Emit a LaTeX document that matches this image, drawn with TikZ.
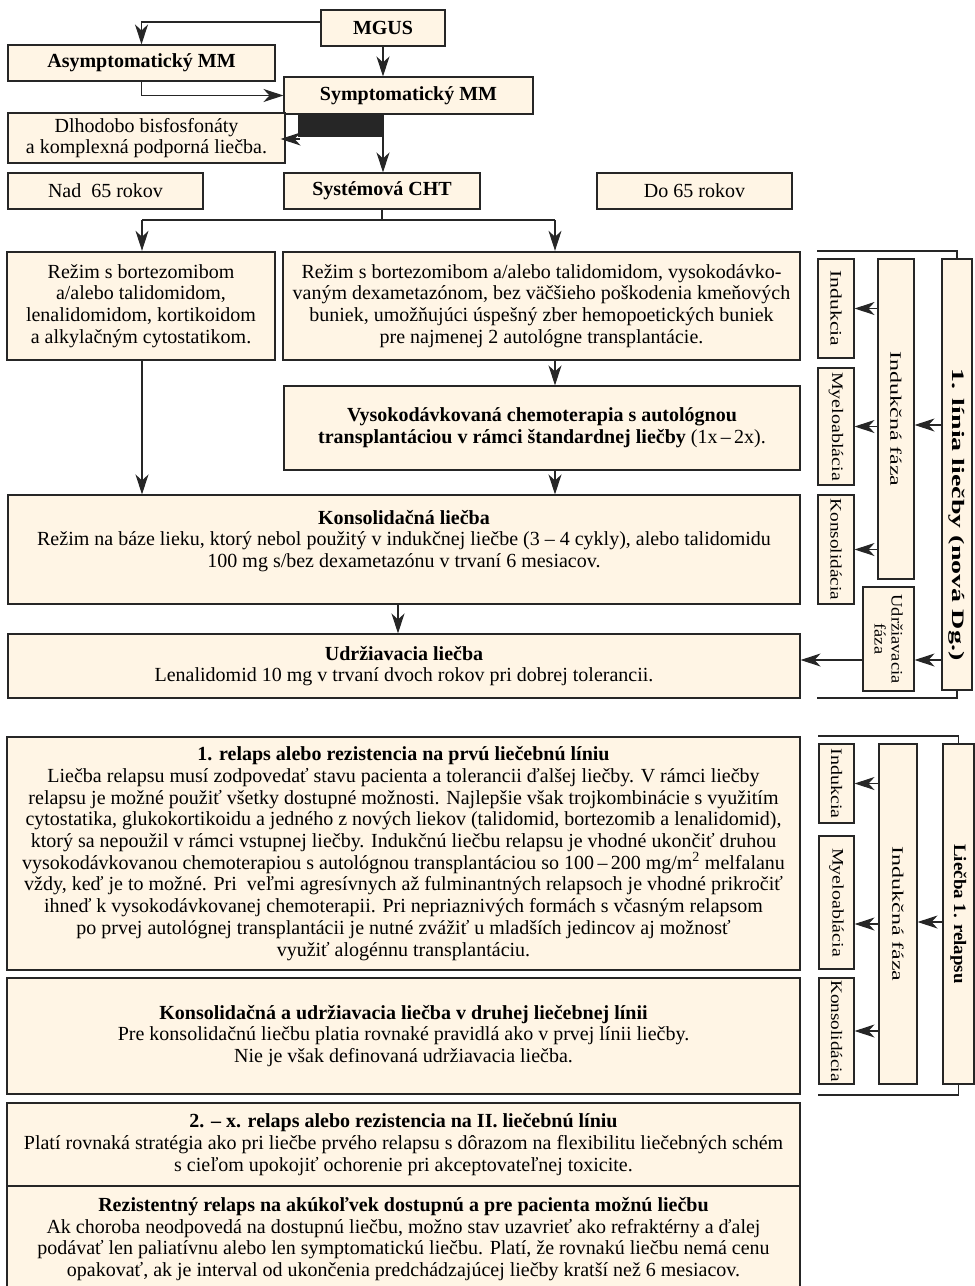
\documentclass[tikz,border=0pt]{standalone}
\usepackage{fontspec}
\setmainfont{Liberation Serif}
\usetikzlibrary{arrows.meta}

\definecolor{cream}{RGB}{255,245,229}
\definecolor{edge}{RGB}{38,38,38}
\newcommand{\mainfs}{\fontsize{20}{21.7}\selectfont}
\newcommand{\sidefs}{\fontsize{16}{17}\selectfont}
\newcommand{\vtext}[2][1.25]{\scalebox{#1}[1]{#2}}

\begin{document}
\begin{tikzpicture}[x=1pt, y=-1pt,
        box/.style={rectangle, draw=edge, line width=1.1pt, fill=cream, inner sep=0pt,
                    align=center, font=\mainfs},
        heavybox/.style={box, line width=2.4pt},
        side/.style={box, rotate=-90, font=\sidefs},
        arrow/.style={draw=edge, line width=1.1pt, -{Stealth[length=20pt, width=13pt, inset=6pt]}}
      ]
      \useasboundingbox (0,0) rectangle (975,1286);

      % --- diagnosis ---
      \node (mgus) [box, font=\mainfs\bfseries, minimum width=124pt, minimum height=36pt] at (383,28) {MGUS};
      \node (asym) [box, font=\mainfs\bfseries, minimum width=267pt, minimum height=36pt] at (141.5,63) {Asymptomatický MM};
      \node (sym) [box, font=\mainfs\bfseries, minimum width=249pt, minimum height=37pt] at (408.5,95.5) {Symptomatický MM};
      \node (bisf) [box, minimum width=277pt, minimum height=50pt] at (146.5,138) {Dlhodobo bisfosfonáty\\a komplexná podporná liečba.};
      \node (nad) [box, minimum width=195pt, minimum height=36pt] at (105.5,191) {Nad\ \ 65 rokov};
      \node (cht) [box, font=\mainfs\bfseries, minimum width=196pt, minimum height=36pt] at (382,191) {Systémová CHT};
      \node (do) [box, minimum width=195pt, minimum height=36pt] at (694.5,191) {Do 65 rokov};

      % --- first line of treatment ---
      \node (rezL) [heavybox, minimum width=268pt, minimum height=108pt] at (141,306)
            {Režim s bortezomibom\\a/alebo talidomidom,\\lenalidomidom, kortikoidom\\a alkylačným cytostatikom.};
      \node (rezR) [heavybox, minimum width=517pt, minimum height=108pt] at (541.5,306)
            {Režim s bortezomibom a/alebo talidomidom, vysokodávko-\\vaným dexametazónom, bez väčšieho poškodenia kmeňových\\buniek, umožňujúci úspešný zber hemopoetických buniek\\pre najmenej 2 autológne transplantácie.};
      \node (vdt) [box, minimum width=516pt, minimum height=84pt] at (542,428)
            {\textbf{Vysokodávkovaná chemoterapia s autológnou}\\\textbf{transplantáciou v rámci štandardnej liečby} (1x\,--\,2x).};
      \node (kons) [box, minimum width=792pt, minimum height=109pt] at (404,549.5)
            {\textbf{Konsolidačná liečba}\\Režim na báze lieku, ktorý nebol použitý v indukčnej liečbe (3 -- 4 cykly), alebo talidomidu\\100 mg s/bez dexametazónu v trvaní 6 mesiacov.\\\mbox{}};
      \node (udr) [box, minimum width=792pt, minimum height=64pt] at (404,666)
            {\textbf{Udržiavacia liečba}\\Lenalidomid 10 mg v trvaní dvoch rokov pri dobrej tolerancii.};

      % --- phases, first line ---
      \node (ind1) [side, minimum width=99pt, minimum height=36pt] at (836,308.5) {\vtext[1.35]{Indukcia}};
      \node (mye1) [side, minimum width=117pt, minimum height=36pt] at (836,426.5) {\vtext{Myeloablácia}};
      \node (kon1) [side, minimum width=109pt, minimum height=36pt] at (836,549.5) {\vtext[1.2]{Konsolidácia}};
      \node (indf1) [side, minimum width=320pt, minimum height=36pt] at (896,419) {\vtext[1.5]{Indukčná fáza}};
      \node (udrf1) [side, minimum width=104pt, minimum height=51pt] at (888.5,639) {\vtext[1.15]{Udržiavacia}\\\vtext[1.15]{fáza}};
      \node (line1) [side, font=\fontsize{17.5}{18}\selectfont\bfseries, minimum width=431pt, minimum height=30pt] at (957,474.5)
            {\hspace*{80pt}\vtext[1.6]{1. línia liečby (nová Dg.)}};

      % --- relapse ---
      \node (rel1) [heavybox, minimum width=793pt, minimum height=233pt] at (403.5,853.5)
            {\textbf{1. relaps alebo rezistencia na prvú liečebnú líniu}\\
             Liečba relapsu musí zodpovedať stavu pacienta a tolerancii ďalšej liečby. V rámci liečby\\
             relapsu je možné použiť všetky dostupné možnosti. Najlepšie však trojkombinácie s využitím\\
             cytostatika, glukokortikoidu a jedného z nových liekov (talidomid, bortezomib a lenalidomid),\\
             ktorý sa nepoužil v rámci vstupnej liečby. Indukčnú liečbu relapsu je vhodné ukončiť druhou\\
             vysokodávkovanou chemoterapiou s autológnou transplantáciou so 100\,--\,200 mg/m\textsuperscript{2} melfalanu\\
             vždy, keď je to možné. Pri\ \ veľmi agresívnych až fulminantných relapsoch je vhodné prikročiť\\
             ihneď k vysokodávkovanej chemoterapii. Pri nepriaznivých formách s včasným relapsom\\
             po prvej autológnej transplantácii je nutné zvážiť u mladších jedincov aj možnosť\\
             využiť alogénnu transplantáciu.};
      \node (konsud) [heavybox, minimum width=793pt, minimum height=116pt] at (403.5,1036)
            {\textbf{Konsolidačná a udržiavacia liečba v druhej liečebnej línii}\\
             Pre konsolidačnú liečbu platia rovnaké pravidlá ako v prvej línii liečby.\\
             Nie je však definovaná udržiavacia liečba.};
      \node (rel2x) [heavybox, minimum width=793pt, minimum height=83pt] at (403.5,1144.5)
            {\textbf{2. -- x. relaps alebo rezistencia na II. liečebnú líniu}\\
             Platí rovnaká stratégia ako pri liečbe prvého relapsu s dôrazom na flexibilitu liečebných schém\\
             s cieľom upokojiť ochorenie pri akceptovateľnej toxicite.};
      \node (rez) [heavybox, minimum width=793pt, minimum height=106pt] at (403.5,1239)
            {\textbf{Rezistentný relaps na akúkoľvek dostupnú a pre pacienta možnú liečbu}\\
             Ak choroba neodpovedá na dostupnú liečbu, možno stav uzavrieť ako refraktérny a ďalej\\
             podávať len paliatívnu alebo len symptomatickú liečbu. Platí, že rovnakú liečbu nemá cenu\\
             opakovať, ak je interval od ukončenia predchádzajúcej liečby kratší než 6 mesiacov.};

      % --- phases, relapse ---
      \node (ind2) [side, minimum width=79pt, minimum height=35pt] at (836.5,783.5) {\vtext{Indukcia}};
      \node (mye2) [side, minimum width=133pt, minimum height=35pt] at (836.5,902.5) {\vtext{Myeloablácia}};
      \node (kon2) [side, minimum width=106pt, minimum height=35pt] at (836.5,1031) {\vtext[1.2]{Konsolidácia}};
      \node (indf2) [side, minimum width=340pt, minimum height=38pt] at (898,914) {\vtext[1.5]{Indukčná fáza}};
      \node (rel2) [side, font=\fontsize{17.5}{18}\selectfont\bfseries, minimum width=340pt, minimum height=31pt] at (958.5,914) {\vtext[1.08]{Liečba 1. relapsu}};

      \coordinate (lcol) at (142,220);
      \coordinate (rcol) at (555,220);

      % Arrows, diagnosis
      \draw [arrow] ([yshift=6pt]mgus.west) -| (asym.north);
      \draw [arrow] (mgus.south) -- (sym.north -| mgus.south);
      \draw [arrow] (asym.south) |- (sym.west);
      \draw [arrow] (sym.south -| mgus.south) -- (cht.north -| mgus.south);
      \fill [edge] ([xshift=12pt]bisf.east |- sym.south) rectangle ([yshift=-22pt]sym.south -| mgus.south);
      \draw [arrow, shorten >=-5pt] ([xshift=14pt, yshift=-1pt]bisf.east) -- ([yshift=-1pt]bisf.east);

      % Arrows, first line
      \draw [edge, line width=1.1pt] (cht.south) -- (cht.south |- rcol);
      \draw [edge, line width=1.1pt] (lcol) -- (rcol);
      \draw [arrow] (lcol) -- (rezL.north -| lcol);
      \draw [arrow] (rcol) -- (rezR.north -| rcol);
      \draw [arrow] (rezR.south -| rcol) -- (vdt.north -| rcol);
      \draw [arrow] (vdt.south -| rcol) -- (kons.north -| rcol);
      \draw [arrow] (rezL.south -| lcol) -- (kons.north -| lcol);
      \draw [arrow] ([xshift=-6pt]kons.south) -- ([xshift=-6pt]udr.north);

      % Arrows, phases
      \draw [edge, line width=1.1pt] (ind1.south |- 0,251) -| (line1.west);
      \draw [edge, line width=1.1pt] (ind1.south |- 0,698) -| (line1.east);
      \draw [arrow] (indf1.south |- ind1.center) -- (ind1.north);
      \draw [arrow] (indf1.south |- mye1.center) -- (mye1.north);
      \draw [arrow] (indf1.south |- kon1.center) -- (kon1.north);
      \draw [arrow] (line1.south |- 0,425) -- (indf1.north |- 0,425);
      \draw [arrow] (line1.south |- 0,660) -- (udrf1.north |- 0,660);
      \draw [arrow] (udrf1.south |- 0,660) -- (udr.east |- 0,660);

      \draw [edge, line width=1.1pt] (ind2.south |- 0,736) -| (rel2.west);
      \draw [edge, line width=1.1pt] (ind2.south |- 0,1095) -| (rel2.east);
      \draw [arrow] (indf2.south |- ind2.center) -- (ind2.north);
      \draw [arrow] (indf2.south |- 0,924) -- (mye2.north |- 0,924);
      \draw [arrow] (indf2.south |- kon2.center) -- (kon2.north);
      \draw [arrow] (rel2.south |- 0,922) -- (indf2.north |- 0,922);

    \end{tikzpicture}
\end{document}
